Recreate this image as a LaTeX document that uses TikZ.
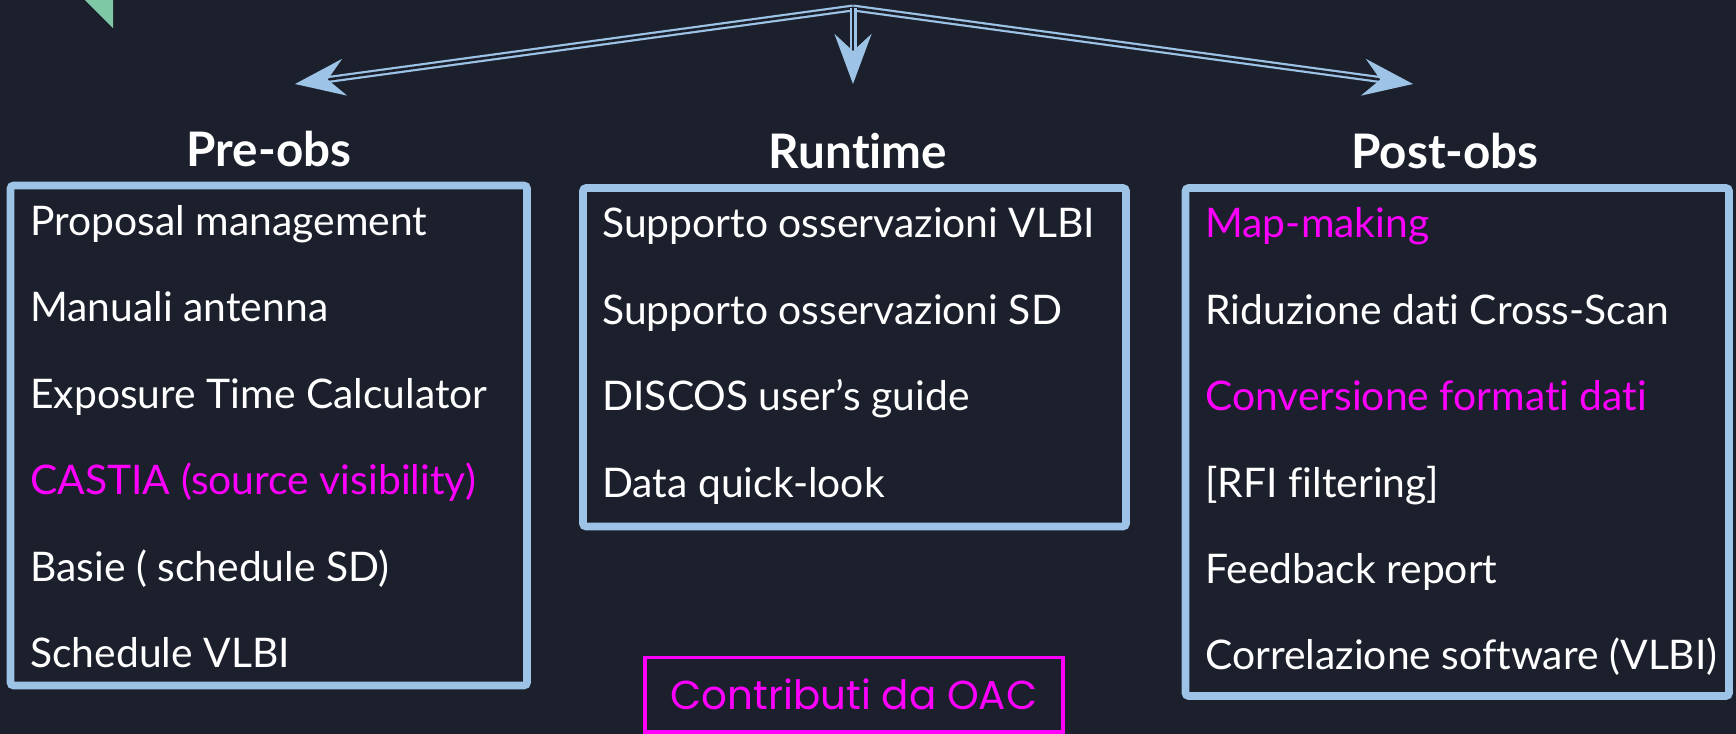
\documentclass[tikz,border=0pt]{standalone}
\usepackage{fontspec}
\setmainfont{Lato}[Ligatures=NoCommon]
\newfontfamily\oacfont{Poppins}
\usetikzlibrary{arrows.meta}

\definecolor{bgnavy}{HTML}{1B202C}
\definecolor{panelblue}{HTML}{9DC3E6}
\definecolor{oacpink}{HTML}{FF00FF}
\definecolor{cornergreen}{HTML}{7FC8A6}

\tikzset{
  item/.style={anchor=base west, inner sep=0pt, text=white, font={\fontsize{20.4}{24}\selectfont}},
  oacitem/.style={item, text=oacpink},
  phase/.style={anchor=base, inner sep=0pt, text=white, font={\fontsize{23.8}{26}\selectfont\bfseries}},
  panel/.style={draw=panelblue, line width=3.8pt, rounded corners=1.5pt, inner sep=0pt},
  branch/.style={draw=panelblue, double=bgnavy, line width=1.1pt, double distance=1.3pt,
    -{Stealth[length=25pt,width=18.5pt,inset=8.5pt]}},
}

\begin{document}
\begin{tikzpicture}[x=0.5pt, y=-0.5pt]
    \fill[bgnavy] (0,0) rectangle (1736,734);
    \useasboundingbox (0,0) rectangle (1736,734);
    \fill[cornergreen] (85,0) -- (113,0) -- (113,28) -- cycle;

    % arrows to the three phases
    \coordinate (hub) at (853,8);
    \coordinate (toPre) at (295,84);
    \coordinate (toRun) at (853,84);
    \coordinate (toPost) at (1413,84);
    \draw[branch] (hub) -- (toPre);
    \draw[branch] (hub) -- (toPost);
    \draw[branch] (hub) -- (toRun);

    \node[phase] (pre) at (269,166) {Pre-obs};
    \node[phase] (run) at (858,168) {Runtime};
    \node[phase] (post) at (1445,168) {Post-obs};

    \node[panel, minimum width=258.25pt, minimum height=250pt] (prebox) at (268.75,435.5) {};
    \node[panel, minimum width=271.5pt, minimum height=169.25pt] (runbox) at (854.5,357.25) {};
    \node[panel, minimum width=271.75pt, minimum height=254pt] (postbox) at (1457.25,442) {};

    % pre-obs
    \node[item] (pre1) at (30,235) {Proposal management};
    \node[item] (pre2) at (30,321.5) {Manuali antenna};
    \node[item] (pre3) at (30,408) {Exposure Time Calculator};
    \node[oacitem] (pre4) at (30,494.5) {CASTIA (source visibility)};
    \node[item] (pre5) at (30,581) {Basie ( schedule SD)};
    \node[item] (pre6) at (30,667.5) {Schedule VLBI};

    % runtime
    \node[item] (run1) at (602,237.5) {Supporto osservazioni VLBI};
    \node[item] (run2) at (602,324) {Supporto osservazioni SD};
    \node[item] (run3) at (602,410.5) {DISCOS user’s guide};
    \node[item] (run4) at (602,497) {Data quick-look};

    % post-obs
    \node[oacitem] (post1) at (1205,237.5) {Map-making};
    \node[item] (post2) at (1205,324) {Riduzione dati Cross-Scan};
    \node[oacitem] (post3) at (1205,410.5) {Conversione formati dati};
    \node[item] (post4) at (1205,497) {[RFI filtering]};
    \node[item] (post5) at (1205,583.5) {Feedback report};
    \node[item] (post6) at (1205,669.5) {Correlazione software (VLBI)};

    \node[draw=oacpink, line width=1.7pt, text=oacpink, inner sep=0pt, minimum width=209pt, minimum height=37.25pt,
      font={\oacfont\fontsize{20.2}{24}\selectfont}] (oac) at (854,694.75) {Contributi da OAC};
\end{tikzpicture}
\end{document}
